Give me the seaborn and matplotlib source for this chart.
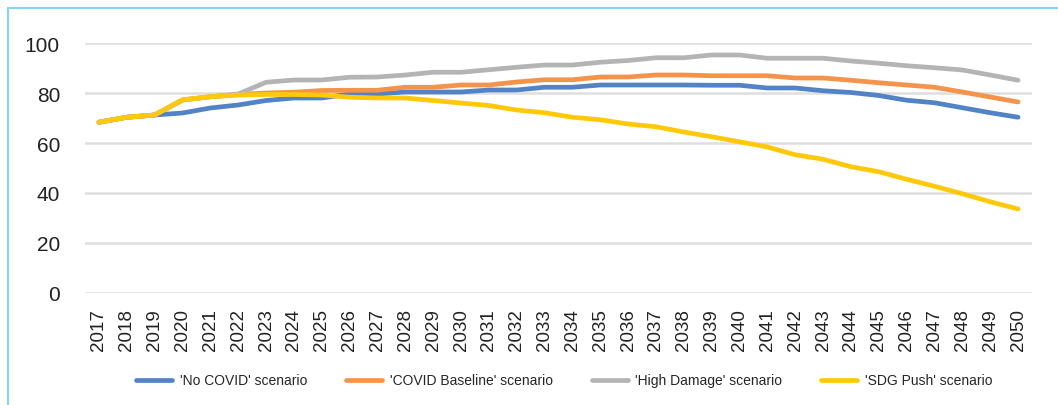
"""
Scenario comparison line chart, 2017-2050.
"""

import pandas as pd
import matplotlib.pyplot as plt
from matplotlib.lines import Line2D
import seaborn as sns

years = list(range(2017, 2051))

no_covid = [68.3, 70.3, 71.2, 72.0, 74.0, 75.2, 77.0, 78.0, 78.0, 79.6,
            79.6, 80.4, 80.4, 80.4, 81.2, 81.2, 82.3, 82.3, 83.2, 83.2,
            83.2, 83.2, 83.1, 83.1, 82.0, 82.0, 80.9, 80.2, 79.0, 77.1,
            76.1, 74.1, 72.1, 70.3]
covid_baseline = [68.3, 70.3, 71.2, 77.2, 78.5, 79.4, 80.0, 80.3, 81.0, 81.1,
                  81.1, 82.3, 82.3, 83.2, 83.2, 84.4, 85.3, 85.3, 86.4, 86.4,
                  87.2, 87.2, 86.9, 86.9, 86.9, 86.0, 86.0, 85.1, 84.1, 83.2,
                  82.3, 80.4, 78.4, 76.4]
high_damage = [68.3, 70.3, 71.2, 77.2, 78.5, 79.6, 84.3, 85.2, 85.2, 86.3,
               86.4, 87.2, 88.3, 88.3, 89.3, 90.3, 91.2, 91.2, 92.3, 93.0,
               94.1, 94.1, 95.2, 95.2, 93.9, 93.9, 93.9, 92.8, 91.9, 90.9,
               90.1, 89.2, 87.2, 85.1]
sdg_push = [68.3, 70.3, 71.2, 77.3, 78.5, 79.2, 79.4, 79.4, 79.2, 78.3,
            78.0, 78.0, 77.0, 76.0, 75.0, 73.2, 72.1, 70.3, 69.3, 67.6,
            66.5, 64.4, 62.5, 60.5, 58.4, 55.3, 53.5, 50.5, 48.5, 45.5,
            42.7, 39.7, 36.5, 33.6]

scenarios = ["'No COVID' scenario", "'COVID Baseline' scenario",
             "'High Damage' scenario", "'SDG Push' scenario"]
colors = ["#5183c6", "#f4934a", "#b4b4b4", "#ffc90a"]


def build_frame() -> pd.DataFrame:
    """Long-form table of all scenarios."""
    parts = []
    for name, vals in zip(scenarios, [no_covid, covid_baseline, high_damage, sdg_push]):
        parts.append(pd.DataFrame({"year": [str(y) for y in years],
                                   "value": vals, "scenario": name}))
    return pd.concat(parts, ignore_index=True)


sns.set_style("white")
plt.rcParams["font.family"] = ["Liberation Sans", "DejaVu Sans"]

df = build_frame()

fig = plt.figure(figsize=(10.58, 4.06), dpi=100)
ax = fig.add_axes([85 / 1058, 1 - 294 / 406, (1032 - 85) / 1058, 250 / 406])

sns.lineplot(data=df, x="year", y="value", hue="scenario", hue_order=scenarios,
             palette=colors, linewidth=3.4, ax=ax, sort=False, legend=True)
for line in ax.lines:
    line.set_clip_on(False)
    line.set_solid_capstyle("round")

ax.set_ylim(0, 100)
ax.set_xlim(-0.5, len(years) - 0.5)
ax.set_yticks(range(0, 101, 20))
ax.yaxis.grid(True, color="#dedede", linewidth=1.8)
ax.set_axisbelow(True)
for s in ax.spines.values():
    s.set_visible(False)
ax.set_xlabel("")
ax.set_ylabel("")
ax.tick_params(axis="y", labelsize=15, colors="#222222", length=0, pad=18)
ax.tick_params(axis="x", labelsize=13.5, colors="#222222", length=0, pad=11,
               labelrotation=90)

handles, labels = ax.get_legend_handles_labels()
ax.legend(handles, labels, loc="center", bbox_to_anchor=(0.506, -0.35),
          ncol=4, frameon=False, fontsize=10, handlelength=2.6,
          columnspacing=2.8, handletextpad=0.55)
for h in ax.get_legend().get_lines():
    h.set_linewidth(3.4)

# light blue frame edges
fig.add_artist(Line2D([8 / 1058, 1], [1 - 9 / 406, 1 - 9 / 406],
                      color="#80d4f4", linewidth=1.5))
fig.add_artist(Line2D([8 / 1058, 8 / 1058], [0, 1 - 9 / 406],
                      color="#80d4f4", linewidth=1.5))

fig.savefig("out.png", dpi=100)
